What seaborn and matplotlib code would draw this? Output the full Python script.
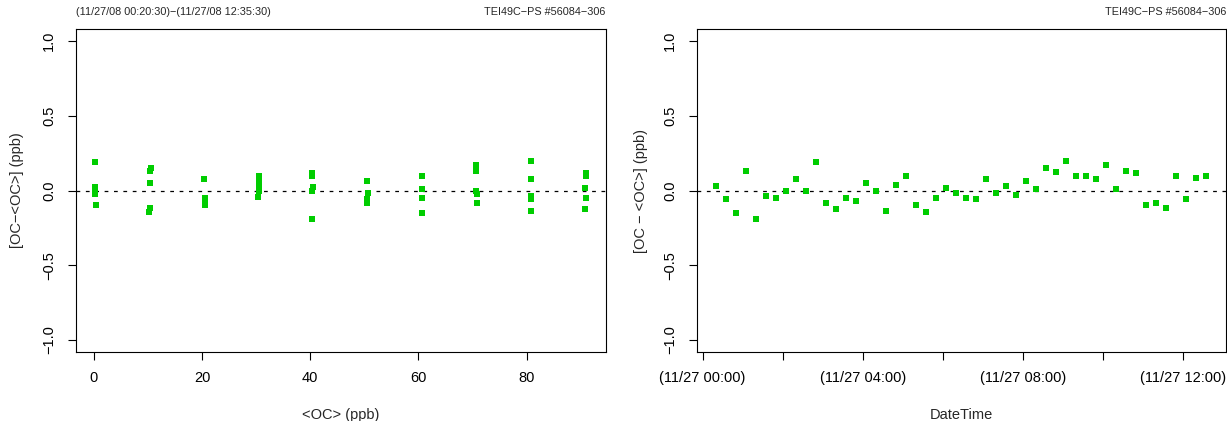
import pandas as pd
import matplotlib.pyplot as plt
import seaborn as sns

# datos: desviacion respecto a la media por nivel de OC
oc_level = [0.25, 0.25, 0.25, 0.25, 0.43,
            10.6, 10.41, 10.41, 10.41, 10.23,
            20.39, 20.58, 20.58, 20.58,
            30.5, 30.5, 30.5, 30.5, 30.37,
            40.36, 40.36, 40.54, 40.36, 40.36,
            50.52, 50.71, 50.52, 50.52,
            60.69, 60.69, 60.69, 60.69,
            70.67, 70.67, 70.67, 70.86, 70.86,
            80.84, 80.84, 80.84, 80.84, 80.84,
            91.0, 91.0, 90.82, 91.0, 90.82]
oc_dev = [0.194, 0.025, 0.0, -0.025, -0.10,
          0.154, 0.134, 0.047, -0.114, -0.147,
          0.078, -0.047, -0.074, -0.10,
          0.10, 0.07, 0.035, 0.0, -0.045,
          0.118, 0.10, 0.025, 0.0, -0.188,
          0.067, -0.02, -0.06, -0.087,
          0.098, 0.013, -0.047, -0.154,
          0.174, 0.134, 0.0, -0.022, -0.087,
          0.2, 0.074, -0.04, -0.06, -0.134,
          0.114, 0.10, 0.02, -0.047, -0.127]

# serie temporal (cada 15 min entre inicio y fin de la cabecera)
t_start = '2008-11-27 00:20:30'
t_end = '2008-11-27 12:35:30'
time_dev = [0.027, -0.060, -0.154, 0.134, -0.188, -0.040, -0.047, 0.0, 0.080, 0.0,
            0.194, -0.087, -0.127, -0.047, -0.067, 0.047, 0.0, -0.134, 0.040, 0.094,
            -0.100, -0.147, -0.047, 0.020, -0.020, -0.047, -0.060, 0.074, -0.020, 0.027,
            -0.027, 0.067, 0.013, 0.154, 0.121, 0.201, 0.100, 0.100, 0.074, 0.174,
            0.007, 0.134, 0.114, -0.100, -0.087, -0.114, 0.100, -0.060, 0.087, 0.100]
times = pd.date_range(t_start, t_end, periods=len(time_dev))

header_left = '(11/27/08 00:20:30)\u2212(11/27/08 12:35:30)'
header_right = 'TEI49C\u2212PS #56084\u2212306'
green = '#00CD00'

sns.set_style('ticks')
plt.rcParams['font.family'] = ['Liberation Sans', 'DejaVu Sans']
plt.rcParams['axes.edgecolor'] = 'black'
plt.rcParams['axes.linewidth'] = 0.8
plt.rcParams['xtick.color'] = 'black'
plt.rcParams['ytick.color'] = 'black'

fig = plt.figure(figsize=(12.27, 4.21), dpi=100)
ax1 = fig.add_axes([0.0617, 0.1646, 0.4319, 0.7658])
ax2 = fig.add_axes([0.5678, 0.1646, 0.4314, 0.7658])

df1 = pd.DataFrame({'oc': oc_level, 'dev': oc_dev})
df2 = pd.DataFrame({'time': times, 'dev': time_dev})

sns.scatterplot(data=df1, x='oc', y='dev', ax=ax1, marker='s', s=23,
                color=green, linewidth=0, zorder=3)
sns.scatterplot(data=df2, x='time', y='dev', ax=ax2, marker='s', s=23,
                color=green, linewidth=0, zorder=3)

# limites estilo R (4% de margen)
xmin, xmax = min(oc_level), max(oc_level)
pad = 0.04 * (xmax - xmin)
ax1.set_xlim(xmin - pad, xmax + pad)
tpad = 0.04 * (times[-1] - times[0])
ax2.set_xlim(times[0] - tpad, times[-1] + tpad)

for ax in (ax1, ax2):
    ax.set_ylim(-1.08, 1.08)
    ax.set_yticks([-1.0, -0.5, 0.0, 0.5, 1.0])
    ax.axhline(0, color='black', linestyle=(0, (3, 4.5)), linewidth=0.9, zorder=2)
    ax.tick_params(axis='both', length=6, width=0.8, labelsize=10.5, pad=8)
    ax.tick_params(axis='y', labelrotation=90)
    for lab in ax.get_yticklabels():
        lab.set_va('center')
    for side in ['top', 'right', 'left', 'bottom']:
        ax.spines[side].set_visible(True)
        ax.spines[side].set_color('black')
    ax.text(1.0, 1.043, header_right, transform=ax.transAxes, ha='right',
            va='baseline', fontsize=7.8)

ax1.set_xticks([0, 20, 40, 60, 80])
ax1.text(0.0, 1.043, header_left, transform=ax1.transAxes, ha='left',
         va='baseline', fontsize=7.8)

# ticks cada 2 horas, etiqueta solo cada 4
tick_times = pd.date_range('2008-11-27 00:00', '2008-11-27 12:00', freq='2h')
ax2.set_xticks(tick_times)
ax2.set_xticklabels([t.strftime('(%m/%d %H:%M)') if t.hour % 4 == 0 else ''
                     for t in tick_times])

ax1.set_xlabel('<OC> (ppb)', fontsize=10.5)
ax1.set_ylabel('[OC\u2212<OC>] (ppb)', fontsize=10.5)
ax2.set_xlabel('DateTime', fontsize=10.5)
ax2.set_ylabel('[OC \u2212 <OC>] (ppb)', fontsize=10.5)
ax1.xaxis.set_label_coords(0.5, -0.175)
ax2.xaxis.set_label_coords(0.5, -0.175)
ax1.yaxis.set_label_coords(-0.098, 0.5)
ax2.yaxis.set_label_coords(-0.092, 0.5)

plt.savefig('out.png', dpi=100)
